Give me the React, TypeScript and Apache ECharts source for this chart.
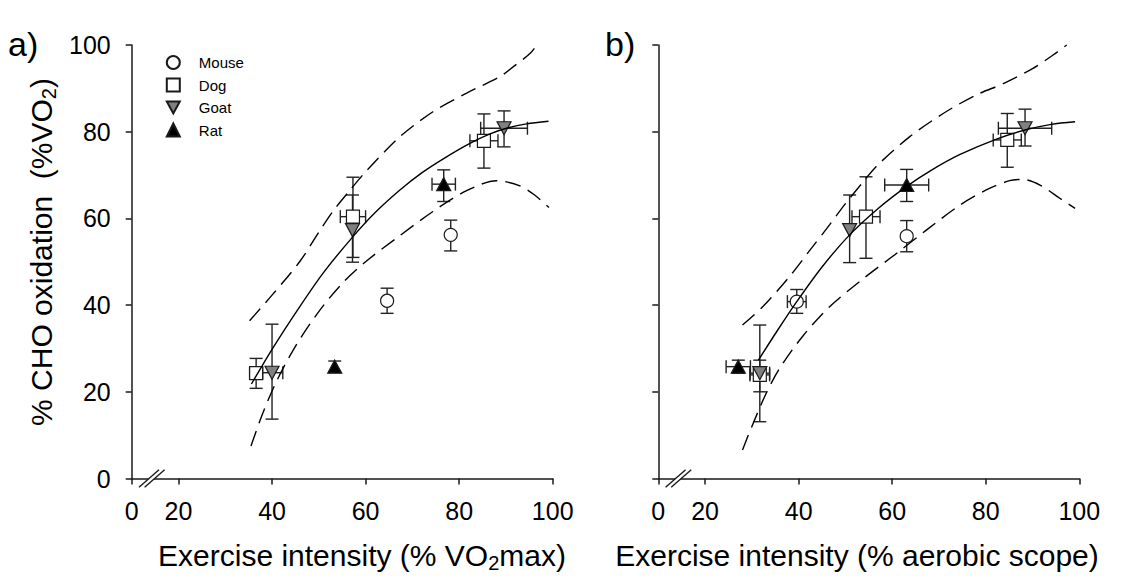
import React, { useEffect, useRef } from "react";
import * as echarts from "echarts";

const FONT = "'Liberation Sans', Arial, Helvetica, sans-serif";

// ---------- Panel a: x = % VO2max ----------
const aMouseX = [64.6, 78.2];
const aMouseY = [41.0, 56.2];
const aMouseXErr = [0, 0];
const aMouseYLo = [38.1, 52.5];
const aMouseYHi = [43.9, 59.6];

const aDogX = [36.6, 57.3, 85.3];
const aDogY = [24.3, 60.4, 77.9];
const aDogXErr = [1.4, 2.7, 3.0];
const aDogYLo = [20.8, 51.0, 71.6];
const aDogYHi = [27.7, 69.5, 84.1];

const aGoatX = [40.0, 57.2, 89.6];
const aGoatY = [24.4, 57.3, 80.8];
const aGoatXErr = [2.3, 0, 5.0];
const aGoatYLo = [13.7, 49.9, 76.5];
const aGoatYHi = [35.6, 65.4, 84.8];

const aRatX = [53.4, 76.7];
const aRatY = [25.8, 67.9];
const aRatXErr = [0, 2.5];
const aRatYLo = [24.5, 63.9];
const aRatYHi = [27.1, 71.2];

const aFit = [[35.6, 21.8], [40.0, 29.8], [45.9, 39.6], [51.0, 47.5], [57.3, 55.8], [62.0, 61.3], [67.4, 66.6], [72.0, 70.5], [76.7, 73.8], [82.3, 77.3], [86.6, 79.5], [90.5, 80.9], [94.4, 81.8], [99.1, 82.4]];
const aUpper = [[35.2, 36.4], [40.0, 42.3], [45.9, 50.0], [50.0, 56.8], [53.0, 61.6], [56.9, 66.8], [60.2, 71.0], [67.3, 78.8], [74.4, 84.6], [81.6, 88.9], [88.7, 92.7], [91.6, 95.0], [95.2, 98.1], [96.6, 100]];
const aLower = [[35.5, 7.5], [38.0, 15.0], [41.0, 22.5], [45.0, 30.5], [50.0, 38.5], [55.0, 45.0], [60.0, 50.0], [67.3, 56.0], [74.4, 61.6], [81.6, 66.4], [88.0, 68.7], [93.0, 67.5], [96.0, 65.5], [99.2, 62.5]];

// ---------- Panel b: x = % aerobic scope ----------
const bMouseX = [39.6, 63.1];
const bMouseY = [40.8, 55.9];
const bMouseXErr = [2.0, 0];
const bMouseYLo = [38.1, 52.3];
const bMouseYHi = [43.6, 59.5];

const bDogX = [31.7, 54.4, 84.6];
const bDogY = [23.9, 60.4, 78.1];
const bDogXErr = [2.1, 3.0, 3.0];
const bDogYLo = [20.0, 50.8, 71.8];
const bDogYHi = [27.3, 69.6, 84.2];

const bGoatX = [31.7, 50.9, 88.4];
const bGoatY = [24.3, 57.3, 80.8];
const bGoatXErr = [2.1, 0, 5.7];
const bGoatYLo = [13.1, 49.8, 76.7];
const bGoatYHi = [35.4, 65.4, 85.2];

const bRatX = [27.1, 63.1];
const bRatY = [25.8, 67.7];
const bRatXErr = [2.6, 4.7];
const bRatYLo = [24.3, 63.9];
const bRatYHi = [27.3, 71.3];

const bFit = [[31.4, 27.3], [35.5, 34.2], [39.6, 40.8], [45.0, 48.8], [50.9, 56.2], [57.0, 62.3], [63.1, 67.4], [68.5, 71.2], [74.4, 74.7], [82.3, 78.3], [88.4, 80.4], [94.0, 81.7], [99.1, 82.3]];
const bUpper = [[28.0, 35.4], [32.3, 39.6], [38.0, 46.5], [42.3, 52.5], [46.6, 58.5], [50.0, 63.4], [53.7, 68.3], [56.6, 72.0], [63.7, 78.8], [70.9, 84.2], [78.0, 88.5], [84.0, 91.2], [90.1, 94.6], [94.4, 97.7], [97.3, 100]];
const bLower = [[28.0, 6.6], [30.0, 12.0], [33.0, 19.5], [36.0, 25.5], [41.0, 33.0], [46.5, 39.5], [53.7, 46.0], [60.9, 51.9], [67.3, 57.3], [74.4, 63.0], [80.0, 66.5], [85.1, 68.7], [88.0, 69.0], [91.6, 67.7], [95.9, 64.6], [99.1, 62.3]];

const legendNames = ["Mouse", "Dog", "Goat", "Rat"];
const xTickValues = [10, 20, 40, 60, 80, 100];
const xTickText = ["0", "20", "40", "60", "80", "100"];

const species = {
  Mouse: { symbol: "circle", size: 13, color: "#ffffff" },
  Dog: { symbol: "rect", size: 13, color: "#ffffff" },
  Goat: { symbol: "path://M0,0L12,0L6,11Z", size: [14, 13], color: "#808080" },
  Rat: { symbol: "triangle", size: [14, 13], color: "#000000" },
};

const zip = (xs: number[], ys: number[]) => xs.map((x, i) => [x, ys[i]]);

function scatter(name: string, xs: number[], ys: number[], g: number) {
  const s = (species as any)[name];
  return {
    type: "scatter",
    name,
    xAxisIndex: g,
    yAxisIndex: g,
    symbol: s.symbol,
    symbolSize: s.size,
    itemStyle: { color: s.color, borderColor: "#1a1a1a", borderWidth: 1.2, opacity: 1 },
    data: zip(xs, ys),
    z: 3,
    silent: true,
  };
}

function errors(xs: number[], ys: number[], xe: number[], lo: number[], hi: number[], g: number) {
  return {
    type: "custom",
    xAxisIndex: g,
    yAxisIndex: g,
    silent: true,
    z: 2,
    encode: { x: 0, y: 1 },
    data: xs.map((x, i) => [x, ys[i], xe[i], lo[i], hi[i]]),
    renderItem: (params: any, api: any) => {
      const x = api.value(0);
      const y = api.value(1);
      const e = api.value(2);
      const l = api.value(3);
      const h = api.value(4);
      const pl = api.coord([x, l]);
      const ph = api.coord([x, h]);
      const c = 6.5;
      const style = { stroke: "#222222", lineWidth: 1.4, fill: "none" };
      const children: any[] = [
        { type: "line", shape: { x1: pl[0], y1: pl[1], x2: ph[0], y2: ph[1] }, style },
        { type: "line", shape: { x1: pl[0] - c, y1: pl[1], x2: pl[0] + c, y2: pl[1] }, style },
        { type: "line", shape: { x1: ph[0] - c, y1: ph[1], x2: ph[0] + c, y2: ph[1] }, style },
      ];
      if (e > 0) {
        const pa = api.coord([x - e, y]);
        const pb = api.coord([x + e, y]);
        children.push(
          { type: "line", shape: { x1: pa[0], y1: pa[1], x2: pb[0], y2: pb[1] }, style },
          { type: "line", shape: { x1: pa[0], y1: pa[1] - c, x2: pa[0], y2: pa[1] + c }, style },
          { type: "line", shape: { x1: pb[0], y1: pb[1] - c, x2: pb[0], y2: pb[1] + c }, style }
        );
      }
      return { type: "group", children };
    },
  };
}

function curve(data: number[][], g: number, dashed: boolean) {
  return {
    type: "line",
    xAxisIndex: g,
    yAxisIndex: g,
    data,
    smooth: 0.3,
    showSymbol: false,
    silent: true,
    z: 4,
    lineStyle: { color: "#000000", width: 1.4, type: dashed ? [16, 8] : "solid" },
  };
}

function xAxis(g: number) {
  return {
    type: "value",
    gridIndex: g,
    min: 10,
    max: 100,
    axisLine: { show: true, lineStyle: { color: "#1a1a1a", width: 1.5 } },
    axisTick: { show: true, length: 6, customValues: xTickValues, lineStyle: { color: "#1a1a1a", width: 1.5 } },
    axisLabel: {
      customValues: xTickValues,
      margin: 20,
      fontSize: 25,
      color: "#000",
      fontFamily: FONT,
      formatter: (v: number) => xTickText[xTickValues.indexOf(v)] ?? "",
    },
    splitLine: { show: false },
  };
}

function yAxis(g: number, labels: boolean) {
  return {
    type: "value",
    gridIndex: g,
    min: 0,
    max: 100,
    interval: 20,
    axisLine: { show: true, lineStyle: { color: "#1a1a1a", width: 1.5 } },
    axisTick: { show: true, length: 6, lineStyle: { color: "#1a1a1a", width: 1.5 } },
    axisLabel: { show: labels, margin: 21, fontSize: 25, color: "#000", fontFamily: FONT },
    splitLine: { show: false },
  };
}

const richMain = { fontSize: 30, fontFamily: FONT, color: "#000", lineHeight: 36 };
const richSub = { fontSize: 20, fontFamily: FONT, color: "#000", lineHeight: 20, verticalAlign: "bottom" };

export default function App() {
  const ref = useRef<HTMLDivElement>(null);
  useEffect(() => {
    if (!ref.current) return;
    const chart = echarts.init(ref.current, null, { renderer: "svg" });
    const series: any[] = [
      errors(aMouseX, aMouseY, aMouseXErr, aMouseYLo, aMouseYHi, 0),
      errors(aDogX, aDogY, aDogXErr, aDogYLo, aDogYHi, 0),
      errors(aGoatX, aGoatY, aGoatXErr, aGoatYLo, aGoatYHi, 0),
      errors(aRatX, aRatY, aRatXErr, aRatYLo, aRatYHi, 0),
      scatter("Mouse", aMouseX, aMouseY, 0),
      scatter("Dog", aDogX, aDogY, 0),
      scatter("Goat", aGoatX, aGoatY, 0),
      scatter("Rat", aRatX, aRatY, 0),
      curve(aFit, 0, false),
      curve(aUpper, 0, true),
      curve(aLower, 0, true),
      errors(bMouseX, bMouseY, bMouseXErr, bMouseYLo, bMouseYHi, 1),
      errors(bDogX, bDogY, bDogXErr, bDogYLo, bDogYHi, 1),
      errors(bGoatX, bGoatY, bGoatXErr, bGoatYLo, bGoatYHi, 1),
      errors(bRatX, bRatY, bRatXErr, bRatYLo, bRatYHi, 1),
      scatter("Mouse", bMouseX, bMouseY, 1),
      scatter("Dog", bDogX, bDogY, 1),
      scatter("Goat", bGoatX, bGoatY, 1),
      scatter("Rat", bRatX, bRatY, 1),
      curve(bFit, 1, false),
      curve(bUpper, 1, true),
      curve(bLower, 1, true),
    ];
    chart.setOption({
      animation: false,
      backgroundColor: "#ffffff",
      grid: [
        { left: 131.7, right: 591.3, top: 45, bottom: 106.5 },
        { left: 658.3, right: 64.7, top: 45, bottom: 106.5 },
      ],
      xAxis: [xAxis(0), xAxis(1)],
      yAxis: [yAxis(0, true), yAxis(1, false)],
      legend: {
        data: legendNames,
        orient: "vertical",
        left: 160.8,
        top: 50,
        itemWidth: 13,
        itemHeight: 13,
        itemGap: 7.5,
        selectedMode: false,
        textStyle: { fontSize: 15, fontFamily: FONT, color: "#000", lineHeight: 13, padding: [0, 0, 0, 14] },
      },
      series,
    });

    const breakMarks = (g: number) => {
      const p1 = chart.convertToPixel({ gridIndex: g }, [13.7, 0]) as number[];
      const p2 = chart.convertToPixel({ gridIndex: g }, [14.9, 0]) as number[];
      const dx = 10;
      const dy = 8.7;
      const ls = { stroke: "#1a1a1a", lineWidth: 1.4 };
      return [
        {
          type: "polygon",
          z: 10,
          shape: { points: [[p1[0] - dx, p1[1] + dy], [p1[0] + dx, p1[1] - dy], [p2[0] + dx, p2[1] - dy], [p2[0] - dx, p2[1] + dy]] },
          style: { fill: "#ffffff" },
        },
        { type: "line", z: 11, shape: { x1: p1[0] - dx, y1: p1[1] + dy, x2: p1[0] + dx, y2: p1[1] - dy }, style: ls },
        { type: "line", z: 11, shape: { x1: p2[0] - dx, y1: p2[1] + dy, x2: p2[0] + dx, y2: p2[1] - dy }, style: ls },
      ];
    };

    chart.setOption({
      graphic: [
        ...breakMarks(0),
        ...breakMarks(1),
        {
          type: "text",
          x: 8,
          y: 44,
          style: { text: "a)", fontSize: 34, fontFamily: FONT, fill: "#000", verticalAlign: "middle", align: "left" },
        },
        {
          type: "text",
          x: 605,
          y: 44,
          style: { text: "b)", fontSize: 34, fontFamily: FONT, fill: "#000", verticalAlign: "middle", align: "left" },
        },
        {
          type: "text",
          x: 362,
          y: 555,
          style: {
            text: "{n|Exercise intensity (% VO}{s|2}{n|max)}",
            rich: { n: richMain, s: richSub },
            align: "center",
            verticalAlign: "middle",
          },
        },
        {
          type: "text",
          x: 857,
          y: 555,
          style: {
            text: "{n|Exercise intensity (% aerobic scope)}",
            rich: { n: richMain, s: richSub },
            align: "center",
            verticalAlign: "middle",
          },
        },
        {
          type: "text",
          x: 41,
          y: 252,
          rotation: Math.PI / 2,
          style: {
            text: "{n|% CHO oxidation  (%VO}{s|2}{n|)}",
            rich: { n: richMain, s: richSub },
            align: "center",
            verticalAlign: "middle",
          },
        },
      ],
    });
    return () => chart.dispose();
  }, []);
  return (
    <div
      ref={ref}
      style={{ position: "fixed", left: 0, top: 0, width: 1144, height: 585, background: "#fff" }}
    />
  );
}
